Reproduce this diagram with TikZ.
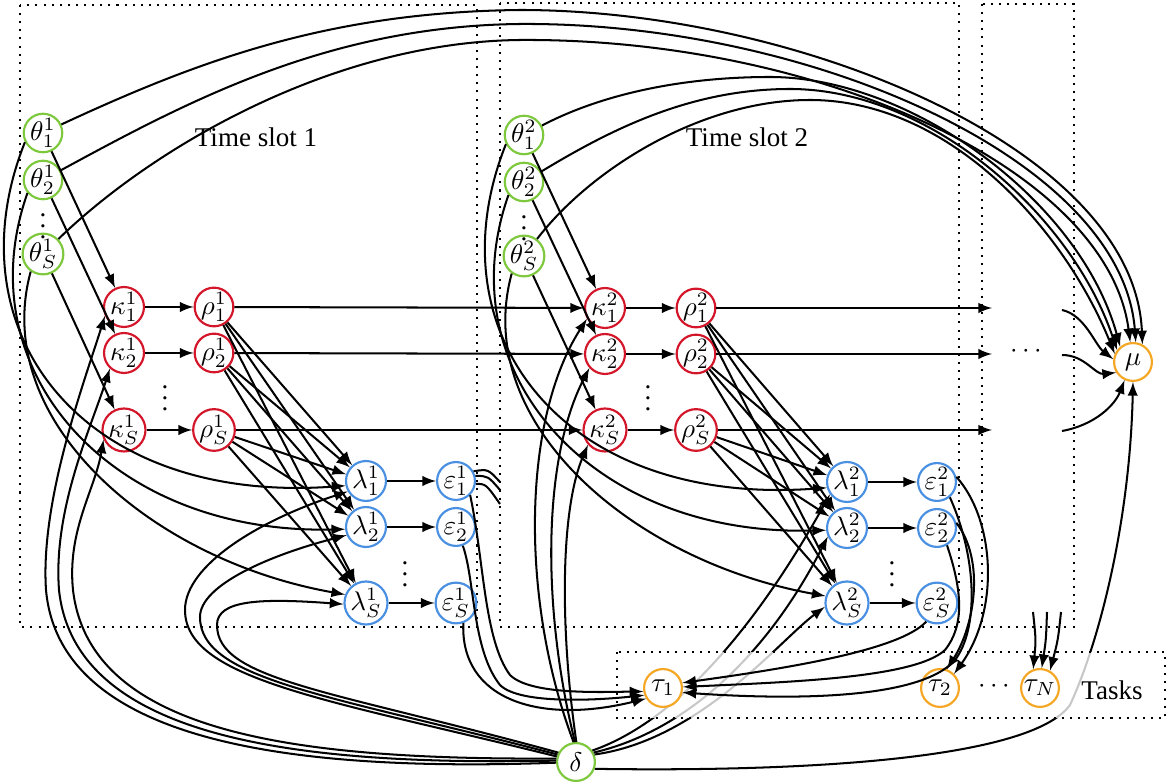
\documentclass[tikz,border=0pt]{standalone}
\usepackage{fontspec}
\setmainfont{Liberation Serif}
\definecolor{paramgreen}{RGB}{125,200,60}
\definecolor{varred}{RGB}{212,22,42}
\definecolor{varblue}{RGB}{74,144,226}
\definecolor{taskorange}{RGB}{245,166,35}
\begin{document}
\begin{tikzpicture}[
        > = latex,
        x = 0.37pt, y = 0.37pt,
        line width = 0.75pt,
        var/.style = {circle, draw, fill = white, line width = 0.8pt, minimum size = 14pt, inner sep = 0pt},
        param/.style = {var, draw = paramgreen},
        resvar/.style = {var, draw = varred},
        flowvar/.style = {var, draw = varblue},
        taskvar/.style = {var, draw = taskorange},
        slotbox/.style = {line width = 0.75pt, dash pattern = on 0.75pt off 2.25pt},
        taskbox/.style = {slotbox, fill = white, fill opacity = 0.78}
    ]
    \useasboundingbox (0,0) rectangle (1168,-783);

    \draw[slotbox] (20,-5) rectangle (477,-627);
    \draw[slotbox] (500,-3) rectangle (959,-627);
    \draw[slotbox] (982,-4) rectangle (1074,-627);

    \node (slot1) at (256,-137) {Time slot 1};
    \node (slot2) at (747,-137) {Time slot 2};

    \node[param] (th11) at (43,-133) {$\theta_1^1$};
    \node[param] (th12) at (43,-180) {$\theta_2^1$};
    \node[param] (th1S) at (43,-254) {$\theta_S^1$};
    \node (vd11) at (43,-218) {$\vdots$};
    \node[resvar] (ka11) at (124,-307) {$\kappa_1^1$};
    \node[resvar] (ka12) at (124,-353) {$\kappa_2^1$};
    \node[resvar] (ka1S) at (124,-430) {$\kappa_S^1$};
    \node[resvar] (rh11) at (214,-307) {$\rho_1^1$};
    \node[resvar] (rh12) at (214,-353) {$\rho_2^1$};
    \node[resvar] (rh1S) at (214,-430) {$\rho_S^1$};
    \node (vd12) at (165,-390) {$\vdots$};
    \node[flowvar] (la11) at (366,-481) {$\lambda_1^1$};
    \node[flowvar] (la12) at (366,-527) {$\lambda_2^1$};
    \node[flowvar] (la1S) at (366,-603) {$\lambda_S^1$};
    \node[flowvar] (ep11) at (456,-481) {$\varepsilon_1^1$};
    \node[flowvar] (ep12) at (456,-527) {$\varepsilon_2^1$};
    \node[flowvar] (ep1S) at (456,-603) {$\varepsilon_S^1$};
    \node (vd13) at (405,-566) {$\vdots$};

    \node[param] (th21) at (524,-135) {$\theta_1^2$};
    \node[param] (th22) at (524,-182) {$\theta_2^2$};
    \node[param] (th2S) at (524,-256) {$\theta_S^2$};
    \node (vd21) at (524,-220) {$\vdots$};
    \node[resvar] (ka21) at (605,-308) {$\kappa_1^2$};
    \node[resvar] (ka22) at (605,-354) {$\kappa_2^2$};
    \node[resvar] (ka2S) at (605,-430) {$\kappa_S^2$};
    \node[resvar] (rh21) at (696,-308) {$\rho_1^2$};
    \node[resvar] (rh22) at (696,-354) {$\rho_2^2$};
    \node[resvar] (rh2S) at (696,-430) {$\rho_S^2$};
    \node (vd22) at (648,-390) {$\vdots$};
    \node[flowvar] (la21) at (847,-482) {$\lambda_1^2$};
    \node[flowvar] (la22) at (847,-528) {$\lambda_2^2$};
    \node[flowvar] (la2S) at (847,-603) {$\lambda_S^2$};
    \node[flowvar] (ep21) at (937,-482) {$\varepsilon_1^2$};
    \node[flowvar] (ep22) at (937,-528) {$\varepsilon_2^2$};
    \node[flowvar] (ep2S) at (937,-603) {$\varepsilon_S^2$};
    \node (vd23) at (892,-566) {$\vdots$};

    \node[taskvar] (mu) at (1133,-362) {$\mu$};
    \node (hd1) at (1026,-352) {$\cdots$};
    \node[param] (delta) at (576,-762) {$\delta$};

    \coordinate (o1) at (992,-308);
    \coordinate (o2) at (992,-354);
    \coordinate (o3) at (992,-430);
    \coordinate (m1) at (1062,-310);
    \coordinate (m2) at (1062,-355);
    \coordinate (m3) at (1062,-431);
    \coordinate (s1) at (500,-482);
    \coordinate (s2) at (500,-490);
    \coordinate (s3) at (500,-504);
    \coordinate (n1) at (1033,-612);
    \coordinate (n2) at (1047,-612);
    \coordinate (n3) at (1061,-612);

    \draw[->] (th11) -- (ka11);
    \draw[->] (th12) -- (ka12);
    \draw[->] (th1S) -- (ka1S);
    \draw[->] (th21) -- (ka21);
    \draw[->] (th22) -- (ka22);
    \draw[->] (th2S) -- (ka2S);

    \draw[->] (ka11) -- (rh11);
    \draw[->] (ka12) -- (rh12);
    \draw[->] (ka1S) -- (rh1S);
    \draw[->] (ka21) -- (rh21);
    \draw[->] (ka22) -- (rh22);
    \draw[->] (ka2S) -- (rh2S);

    \draw[->] (rh11) -- (ka21);
    \draw[->] (rh12) -- (ka22);
    \draw[->] (rh1S) -- (ka2S);
    \draw[->] (rh21) -- (o1);
    \draw[->] (rh22) -- (o2);
    \draw[->] (rh2S) -- (o3);

    \draw[->] (rh11) -- (la11);
    \draw[->] (rh11) -- (la12);
    \draw[->] (rh11) -- (la1S);
    \draw[->] (rh12) -- (la11);
    \draw[->] (rh12) -- (la12);
    \draw[->] (rh12) -- (la1S);
    \draw[->] (rh1S) -- (la11);
    \draw[->] (rh1S) -- (la12);
    \draw[->] (rh1S) -- (la1S);
    \draw[->] (rh21) -- (la21);
    \draw[->] (rh21) -- (la22);
    \draw[->] (rh21) -- (la2S);
    \draw[->] (rh22) -- (la21);
    \draw[->] (rh22) -- (la22);
    \draw[->] (rh22) -- (la2S);
    \draw[->] (rh2S) -- (la21);
    \draw[->] (rh2S) -- (la22);
    \draw[->] (rh2S) -- (la2S);

    \draw[->] (la11) -- (ep11);
    \draw[->] (la12) -- (ep12);
    \draw[->] (la1S) -- (ep1S);
    \draw[->] (la21) -- (ep21);
    \draw[->] (la22) -- (ep22);
    \draw[->] (la2S) -- (ep2S);

    \draw[->] (th11) .. controls (200,-60) and (330,-12) .. (520,-10) .. controls (800,-10) and (1135,-150) .. (mu.62);
    \draw[->] (th12) .. controls (190,-100) and (330,-26) .. (520,-24) .. controls (810,-22) and (1122,-160) .. (mu.82);
    \draw[->] (th1S) .. controls (150,-150) and (330,-42) .. (520,-40) .. controls (820,-38) and (1108,-170) .. (mu.98);
    \draw[->] (th21) .. controls (600,-95) and (680,-77) .. (770,-77) .. controls (910,-77) and (1080,-200) .. (mu.130);
    \draw[->] (th22) .. controls (610,-130) and (690,-89) .. (790,-89) .. controls (930,-89) and (1072,-215) .. (mu.143);
    \draw[->] (th2S) .. controls (590,-170) and (700,-100) .. (810,-100) .. controls (950,-100) and (1065,-230) .. (mu.156);

    \draw[->] (th11.207) .. controls (-50,-330) and (80,-505) .. (la11.193);
    \draw[->] (th12.220) .. controls (-35,-370) and (110,-535) .. (la12.186);
    \draw[->] (th1S.235) .. controls (-10,-420) and (150,-560) .. (la1S.158);
    \draw[->] (th21.207) .. controls (431,-332) and (561,-507) .. (la21.196);
    \draw[->] (th22.220) .. controls (446,-372) and (591,-537) .. (la22.186);
    \draw[->] (th2S.235) .. controls (471,-422) and (631,-561) .. (la2S.162);

    \draw[->] (delta.182) .. controls (300,-772) and (60,-745) .. (46,-590) .. controls (40,-500) and (85,-380) .. (ka11.205);
    \draw[->] (delta.176) .. controls (300,-766) and (75,-740) .. (59,-590) .. controls (53,-510) and (90,-430) .. (ka12.228);
    \draw[->] (delta.170) .. controls (300,-760) and (90,-735) .. (73,-590) .. controls (67,-530) and (95,-490) .. (ka1S.205);
    \draw[->] (delta.97) .. controls (520,-600) and (522,-420) .. (ka21.211);
    \draw[->] (delta.93) .. controls (542,-610) and (542,-460) .. (ka22.222);
    \draw[->] (delta.89) .. controls (560,-630) and (560,-510) .. (ka2S.221);

    \draw[->] (delta.164) .. controls (330,-700) and (185,-680) .. (185,-610) .. controls (185,-565) and (260,-520) .. (la11.210);
    \draw[->] (delta.158) .. controls (330,-695) and (200,-680) .. (200,-617) .. controls (200,-585) and (270,-555) .. (la12.203);
    \draw[->] (delta.152) .. controls (330,-690) and (217,-680) .. (217,-625) .. controls (217,-600) and (260,-598) .. (la1S.183);

    \draw[->] (delta.35) .. controls (680,-720) and (760,-620) .. (la21.216);
    \draw[->] (delta.28) .. controls (690,-730) and (770,-650) .. (la22.204);
    \draw[->] (delta.22) .. controls (700,-740) and (780,-640) .. (la2S.190);
    \draw[->] (delta.340) .. controls (800,-772) and (1030,-760) .. (1070,-705) .. controls (1100,-640) and (1130,-520) .. (mu.south);

    \draw[taskbox] (617,-652) rectangle (1165,-718);
    \node[taskvar] (tau1) at (663,-688) {$\tau_1$};
    \node[taskvar] (tau2) at (940,-688) {$\tau_2$};
    \node[taskvar] (tauN) at (1040,-688) {$\tau_N$};
    \node (hd2) at (994,-686) {$\cdots$};
    \node (tasks) at (1112,-690) {Tasks};

    \draw[->] (m1) .. controls (1085,-315) and (1095,-345) .. (mu.172);
    \draw[->] (m2) .. controls (1085,-355) and (1095,-375) .. (mu.212);
    \draw[->] (m3) .. controls (1095,-425) and (1115,-405) .. (mu.245);

    \draw (ep11.29) .. controls (488,-469) .. (s1);
    \draw (ep11.15) .. controls (488,-476) .. (s2);
    \draw (ep11.352) .. controls (486,-484) .. (s3);

    \draw[->] (ep11.315) .. controls (484,-560) and (484,-640) .. (510,-675) .. controls (530,-695) and (600,-692) .. (tau1.190);
    \draw[->] (ep12.290) .. controls (475,-580) and (472,-650) .. (500,-685) .. controls (520,-705) and (600,-700) .. (tau1.201);
    \draw[->] (ep1S.290) .. controls (460,-700) and (540,-725) .. (tau1.212);

    \draw[->] (ep21.310) .. controls (978,-560) and (978,-630) .. (955,-660) .. controls (920,-700) and (790,-700) .. (tau1.347);
    \draw[->] (ep22.300) .. controls (962,-590) and (965,-625) .. (945,-650) .. controls (915,-678) and (790,-682) .. (tau1.3);
    \draw[->] (ep2S.240) .. controls (900,-650) and (790,-668) .. (tau1.15);
    \draw[->] (ep21.15) .. controls (995,-520) and (1000,-610) .. (tau2.45);
    \draw[->] (ep22.15) .. controls (985,-560) and (975,-625) .. (tau2.70);

    \draw[->] (n1) .. controls (1036,-640) .. (tauN.110);
    \draw[->] (n2) .. controls (1046,-640) .. (tauN.85);
    \draw[->] (n3) .. controls (1058,-640) .. (tauN.60);
\end{tikzpicture}
\end{document}
